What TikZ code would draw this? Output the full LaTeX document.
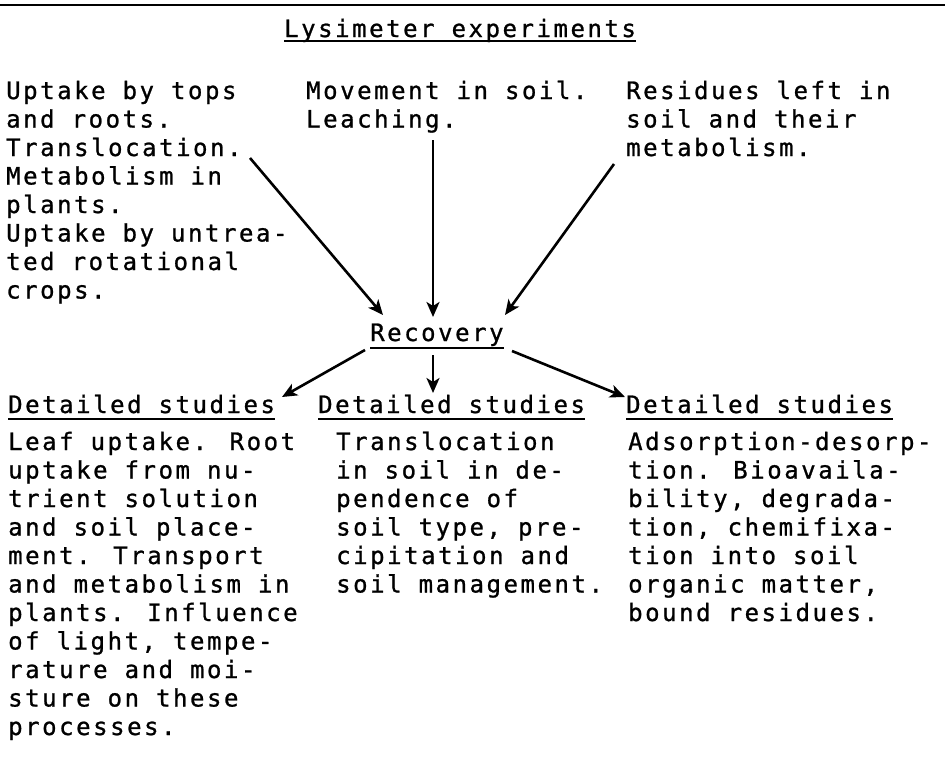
\documentclass[tikz,border=0pt]{standalone}
\usepackage{fontspec}
\newfontfamily\typewr[LetterSpace=10.6, FakeBold=1]{DejaVu Sans Mono}
\usetikzlibrary{arrows.meta, positioning}

\begin{document}
\begin{tikzpicture}[x=1pt, y=1pt, >={Stealth[length=15pt, width=13pt, inset=4pt]},
    txt/.style={inner sep=0pt, anchor=base west, align=left,
                font=\typewr\fontsize{24}{28.5}\selectfont},
    uline/.style={line width=1.8pt},
    arr/.style={->, line width=2.6pt}]

    \fill[white] (0,0) rectangle (945,-758);
    \useasboundingbox (0,0) rectangle (945,-758);
    \draw[line width=2.5pt] (0,-5) -- (945,-5);

    % top row (multi-line nodes sit on their last baseline)
    \node[txt] (title) at (284,-37) {Lysimeter experiments};
    \node[txt] (uptake) at (6,-298.5) {Uptake by tops\\and roots.\\Translocation.\\Metabolism in\\plants.\\Uptake by untrea-\\ted rotational\\crops.};
    \node[txt] (movement) at (306,-127.5) {Movement in soil.\\Leaching.};
    \node[txt] (residues) at (626,-156) {Residues left in\\soil and their\\metabolism.};

    \node[txt] (recovery) at (370,-341) {Recovery};

    % detailed studies
    \node[txt] (leftdet) at (8,-413) {Detailed studies};
    \node[txt] (middet) at (318,-413) {Detailed studies};
    \node[txt] (rightdet) at (626,-413) {Detailed studies};
    \node[txt] (leafbody) at (8,-735) {Leaf uptake. Root\\uptake from nu-\\trient solution\\and soil place-\\ment. Transport\\and metabolism in\\plants. Influence\\of light, tempe-\\rature and moi-\\sture on these\\processes.};
    \node[txt] (soilbody) at (336,-592.5) {Translocation\\in soil in de-\\pendence of\\soil type, pre-\\cipitation and\\soil management.};
    \node[txt] (sorpbody) at (628,-621) {Adsorption-desorp-\\tion. Bioavaila-\\bility, degrada-\\tion, chemifixa-\\tion into soil\\organic matter,\\bound residues.};

    \draw[uline] ([yshift=-4pt]title.base west) -- ([yshift=-4pt]title.base east);
    \draw[uline] ([yshift=-7pt]recovery.base west) -- ([yshift=-7pt]recovery.base east);
    \draw[uline] ([yshift=-6pt]leftdet.base west) -- ([yshift=-6pt]leftdet.base east);
    \draw[uline] ([yshift=-6pt]middet.base west) -- ([yshift=-6pt]middet.base east);
    \draw[uline] ([yshift=-6pt]rightdet.base west) -- ([yshift=-6pt]rightdet.base east);

    \draw[arr] ([shift={(244pt,140.5pt)}]uptake.base west) -- ([shift={(13pt,26pt)}]recovery.base west);
    \draw[arr] ([shift={(127pt,-12.5pt)}]movement.base west) -- ([shift={(63pt,24pt)}]recovery.base west);
    \draw[arr] ([shift={(-12pt,-8pt)}]residues.base west) -- ([shift={(135pt,26pt)}]recovery.base west);

    \draw[arr] ([shift={(-5pt,-9pt)}]recovery.base west) -- ([shift={(274pt,16pt)}]leftdet.base west);
    \draw[arr] ([shift={(63pt,-14pt)}]recovery.base west) -- ([shift={(115pt,20pt)}]middet.base west);
    \draw[arr] ([shift={(142pt,-10pt)}]recovery.base west) -- ([shift={(-1pt,16pt)}]rightdet.base west);
\end{tikzpicture}
\end{document}
